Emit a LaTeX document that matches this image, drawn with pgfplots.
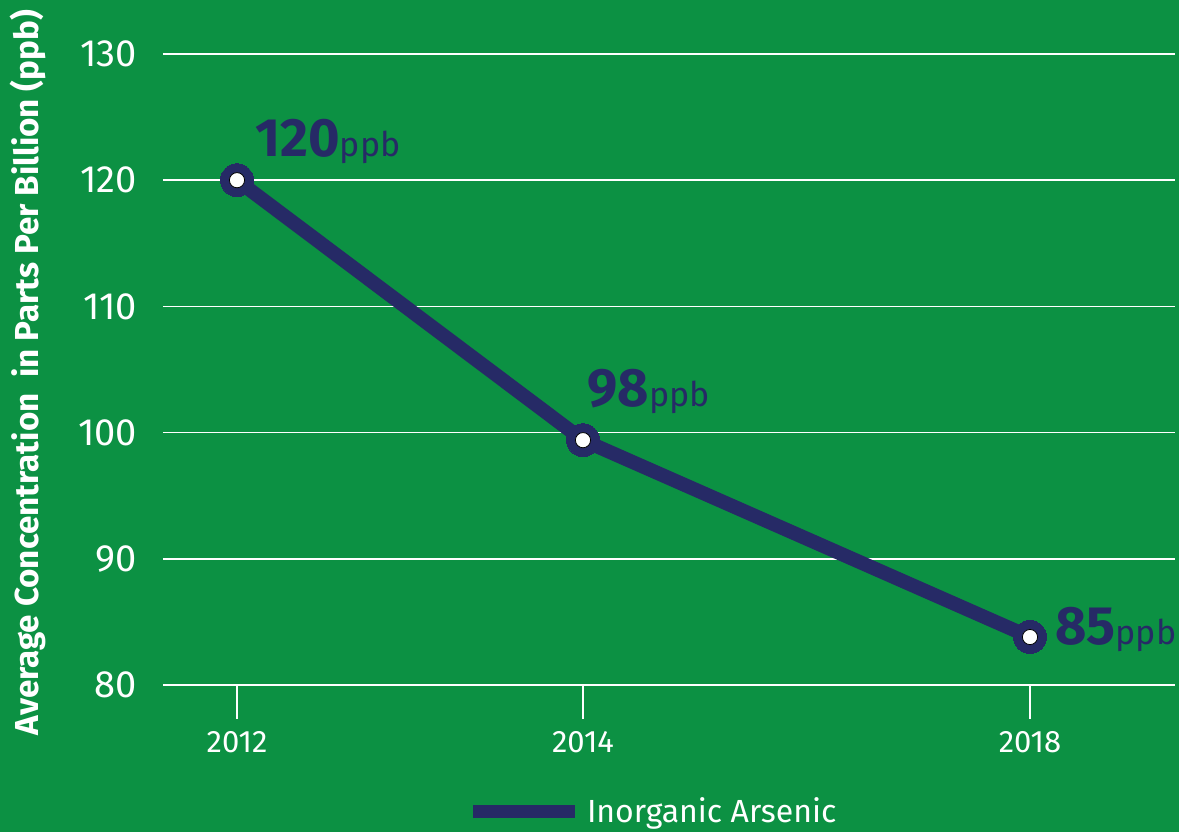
\documentclass[border=0pt]{standalone}
\usepackage{pgfplots}
\pgfplotsset{compat=1.18}
\usepackage{fontspec}
\setmainfont{Fira Sans}
\definecolor{bg}{RGB}{12,145,67}
\definecolor{navy}{RGB}{38,42,102}
\begin{document}
\begin{tikzpicture}
\fill[bg] (0,0) rectangle (589.5pt,416pt);
\begin{axis}[
  at={(81.5pt,73.5pt)}, anchor=south west,
  width=506pt, height=315.5pt, scale only axis,
  xmin=163, xmax=1175, ymin=80, ymax=130,
  axis line style={draw=none},
  ytick={80,90,...,130},
  xtick={237,583,1030}, xticklabels={2012,2014,2018},
  xtick pos=bottom, ytick pos=left,
  ymajorgrids, grid style={white, line width=0.75pt},
  tick align=outside, major tick length=17pt,
  xtick style={white, line width=0.75pt},
  ytick style={draw=none},
  /pgf/number format/assume math mode=true,
  ticklabel style={white},
  yticklabel style={font=\fontsize{19}{19}\selectfont, xshift=7.5pt},
  xticklabel style={font=\fontsize{15.5}{16}\selectfont, yshift=-2.5pt},
  ylabel={Average Concentration\ \ in Parts Per Billion (ppb)},
  ylabel style={at={(axis description cs:0,0.495)}, anchor=center, yshift=67.5pt,
    white, font=\bfseries\fontsize{16.6}{17}\selectfont},
  clip=false,
  legend style={at={(axis description cs:0.30,-0.201)}, anchor=west, draw=none, fill=none,
    text=white, font=\fontsize{16}{17}\selectfont},
  legend image code/.code={\fill[navy, draw=none] (0pt,-3.25pt) rectangle (51pt,3.25pt);},
]
\addplot[navy, line width=7pt, line join=round, mark=*, mark size=8.2pt,
  mark options={fill=navy, draw=none, line width=0pt}] coordinates {(237,120) (583,99.4) (1030,83.8)};
\addlegendentry{\hspace*{4pt}Inorganic Arsenic}
\addplot[forget plot, only marks, mark=*, mark size=3.8pt, mark options={fill=white, draw=none}]
  coordinates {(237,120) (583,99.4) (1030,83.8)};
\node[anchor=base west, inner sep=0, text=navy] at (axis cs:255,121.84)
  {{\bfseries\fontsize{27}{27}\selectfont 120}{\fontsize{17}{17}\selectfont ppb}};
\node[anchor=base west, inner sep=0, text=navy] at (axis cs:587,102.1)
  {{\bfseries\fontsize{27}{27}\selectfont 98}{\fontsize{17}{17}\selectfont ppb}};
\node[anchor=base west, inner sep=0, text=navy] at (axis cs:1055,83.17)
  {{\bfseries\fontsize{27}{27}\selectfont 85}{\fontsize{17}{17}\selectfont ppb}};
\end{axis}
\end{tikzpicture}
\end{document}
